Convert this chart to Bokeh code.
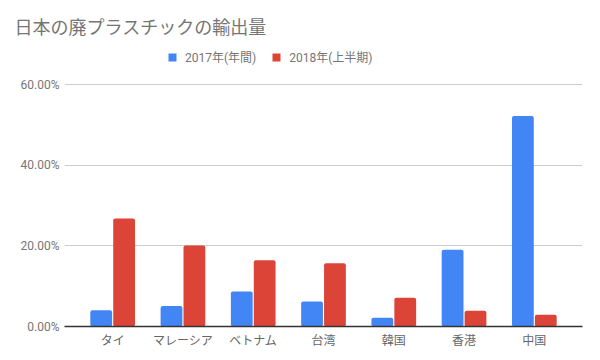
from bokeh.plotting import figure
from bokeh.models import ColumnDataSource, FactorRange, Legend, LegendItem, PrintfTickFormatter, FixedTicker, Range1d
from bokeh.transform import dodge
from bokeh.embed import file_html
from bokeh.resources import INLINE

title_text = "日本の廃プラスチックの輸出量"
countries = ["タイ", "マレーシア", "ベトナム", "台湾", "韓国", "香港", "中国"]
series_2017_name = "2017年(年間)"
series_2018_name = "2018年(上半期)"
share_2017 = [4.0, 5.1, 8.7, 6.2, 2.2, 19.0, 52.2]
share_2018 = [26.8, 20.1, 16.4, 15.7, 7.1, 3.9, 2.9]
y_ticks = [0, 20, 40, 60]

BLUE = "#4285F4"
RED = "#DB4437"
GRAY = "#757575"
CJK = "Roboto, 'Noto Sans CJK JP'"

src = ColumnDataSource(dict(country=countries, a=share_2017, b=share_2018))

p = figure(width=592, height=352, output_backend="svg", toolbar_location=None,
           x_range=FactorRange(factors=countries, range_padding=0.053),
           y_range=Range1d(0, 69.92), min_border_left=64, min_border_right=10,
           min_border_top=44, min_border_bottom=26, title=title_text)
p.outline_line_color = None
p.background_fill_color = "white"
p.border_fill_color = "white"

p.title.text_font = "Noto Sans CJK JP"
p.title.text_font_size = "18px"
p.title.text_font_style = "normal"
p.title.text_color = GRAY
p.title.align = "left"
p.title.offset = -50
p.title.standoff = 11

r1 = p.vbar(x=dodge("country", -0.163, range=p.x_range), top="a", width=0.31, source=src,
            fill_color=BLUE, line_color=None, border_radius=2)
r2 = p.vbar(x=dodge("country", 0.163, range=p.x_range), top="b", width=0.31, source=src,
            fill_color=RED, line_color=None, border_radius=2)

p.xgrid.grid_line_color = None
p.ygrid.grid_line_color = "#cccccc"
p.yaxis.ticker = FixedTicker(ticks=y_ticks)
p.yaxis.formatter = PrintfTickFormatter(format="%.2f%%")
p.yaxis.axis_line_color = None
p.yaxis.major_tick_line_color = None
p.yaxis.minor_tick_line_color = None
p.yaxis.major_tick_out = 0
p.yaxis.minor_tick_out = 0
p.yaxis.major_label_text_font = "Roboto"
p.yaxis.major_label_text_font_size = "12px"
p.yaxis.major_label_text_color = GRAY
p.yaxis.major_label_standoff = 5

p.xaxis.axis_line_color = "#333333"
p.xaxis.axis_line_width = 1.5
p.xaxis.major_tick_line_color = None
p.xaxis.minor_tick_line_color = None
p.xaxis.major_tick_out = 0
p.xaxis.major_label_text_font = CJK
p.xaxis.major_label_text_font_size = "12px"
p.xaxis.major_label_text_color = "#666666"
p.xaxis.major_label_standoff = 7

legend = Legend(items=[LegendItem(label=series_2017_name, renderers=[r1]),
                       LegendItem(label=series_2018_name, renderers=[r2])],
                location=(103, 261), orientation="horizontal",
                glyph_width=10, glyph_height=10, label_height=12,
                label_standoff=8, spacing=15, padding=0, margin=0,
                border_line_color=None, background_fill_alpha=0,
                label_text_font=CJK, label_text_font_size="12px",
                label_text_color=GRAY)
p.add_layout(legend, "center")

open("out.html", "w").write(file_html(p, INLINE))
